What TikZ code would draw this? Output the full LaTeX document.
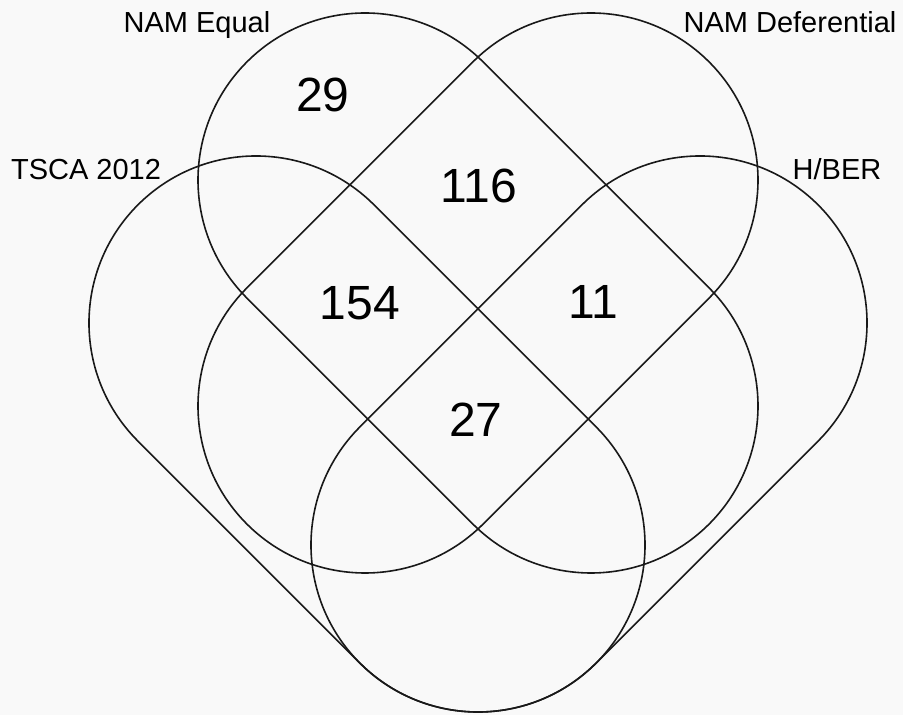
\documentclass[tikz,border=0pt]{standalone}
\usepackage{fontspec}
\setmainfont{Liberation Sans}
\begin{document}
\begin{tikzpicture}[x=1pt,y=1pt,
  setline/.style={line width=1.6pt, draw=black!90},
  setlabel/.style={anchor=base, inner sep=0pt, font=\fontsize{29}{34}\selectfont},
  countlabel/.style={anchor=base, inner sep=0pt, font=\fontsize{48}{56}\selectfont}]
\definecolor{bgcol}{HTML}{F9F9F9}
\fill[bgcol] (0,0) rectangle (903,715);
\useasboundingbox (0,0) rectangle (903,715);
\def\rad{167}
% NAM Equal
\begin{scope}[shift={(478,422)}, rotate=-45]
  \draw[setline] (-159.8,-\rad) -- (159.8,-\rad) arc[start angle=-90, end angle=90, radius=\rad]
     -- (-159.8,\rad) arc[start angle=90, end angle=270, radius=\rad] -- cycle;
\end{scope}
% NAM Deferential
\begin{scope}[shift={(478,422)}, rotate=45]
  \draw[setline] (-159.8,-\rad) -- (159.8,-\rad) arc[start angle=-90, end angle=90, radius=\rad]
     -- (-159.8,\rad) arc[start angle=90, end angle=270, radius=\rad] -- cycle;
\end{scope}
% TSCA 2012
\begin{scope}[shift={(367,281)}, rotate=-45]
  \draw[setline] (-157,-\rad) -- (157,-\rad) arc[start angle=-90, end angle=90, radius=\rad]
     -- (-157,\rad) arc[start angle=90, end angle=270, radius=\rad] -- cycle;
\end{scope}
% H/BER
\begin{scope}[shift={(589,281)}, rotate=45]
  \draw[setline] (-157,-\rad) -- (157,-\rad) arc[start angle=-90, end angle=90, radius=\rad]
     -- (-157,\rad) arc[start angle=90, end angle=270, radius=\rad] -- cycle;
\end{scope}
% set labels
\node[setlabel] (lEq)  at (197,682) {NAM Equal};
\node[setlabel] (lDef) at (790,682) {NAM Deferential};
\node[setlabel] (lTS)  at (86,535)  {TSCA 2012};
\node[setlabel] (lHB)  at (837,535) {H/BER};
% counts
\node[countlabel] (c29)  at (323,603) {29};
\node[countlabel] (c116) at (479,512) {116};
\node[countlabel] (c154) at (360,395) {154};
\node[countlabel] (c11)  at (593,396) {11};
\node[countlabel] (c27)  at (476,278) {27};
\end{tikzpicture}
\end{document}
